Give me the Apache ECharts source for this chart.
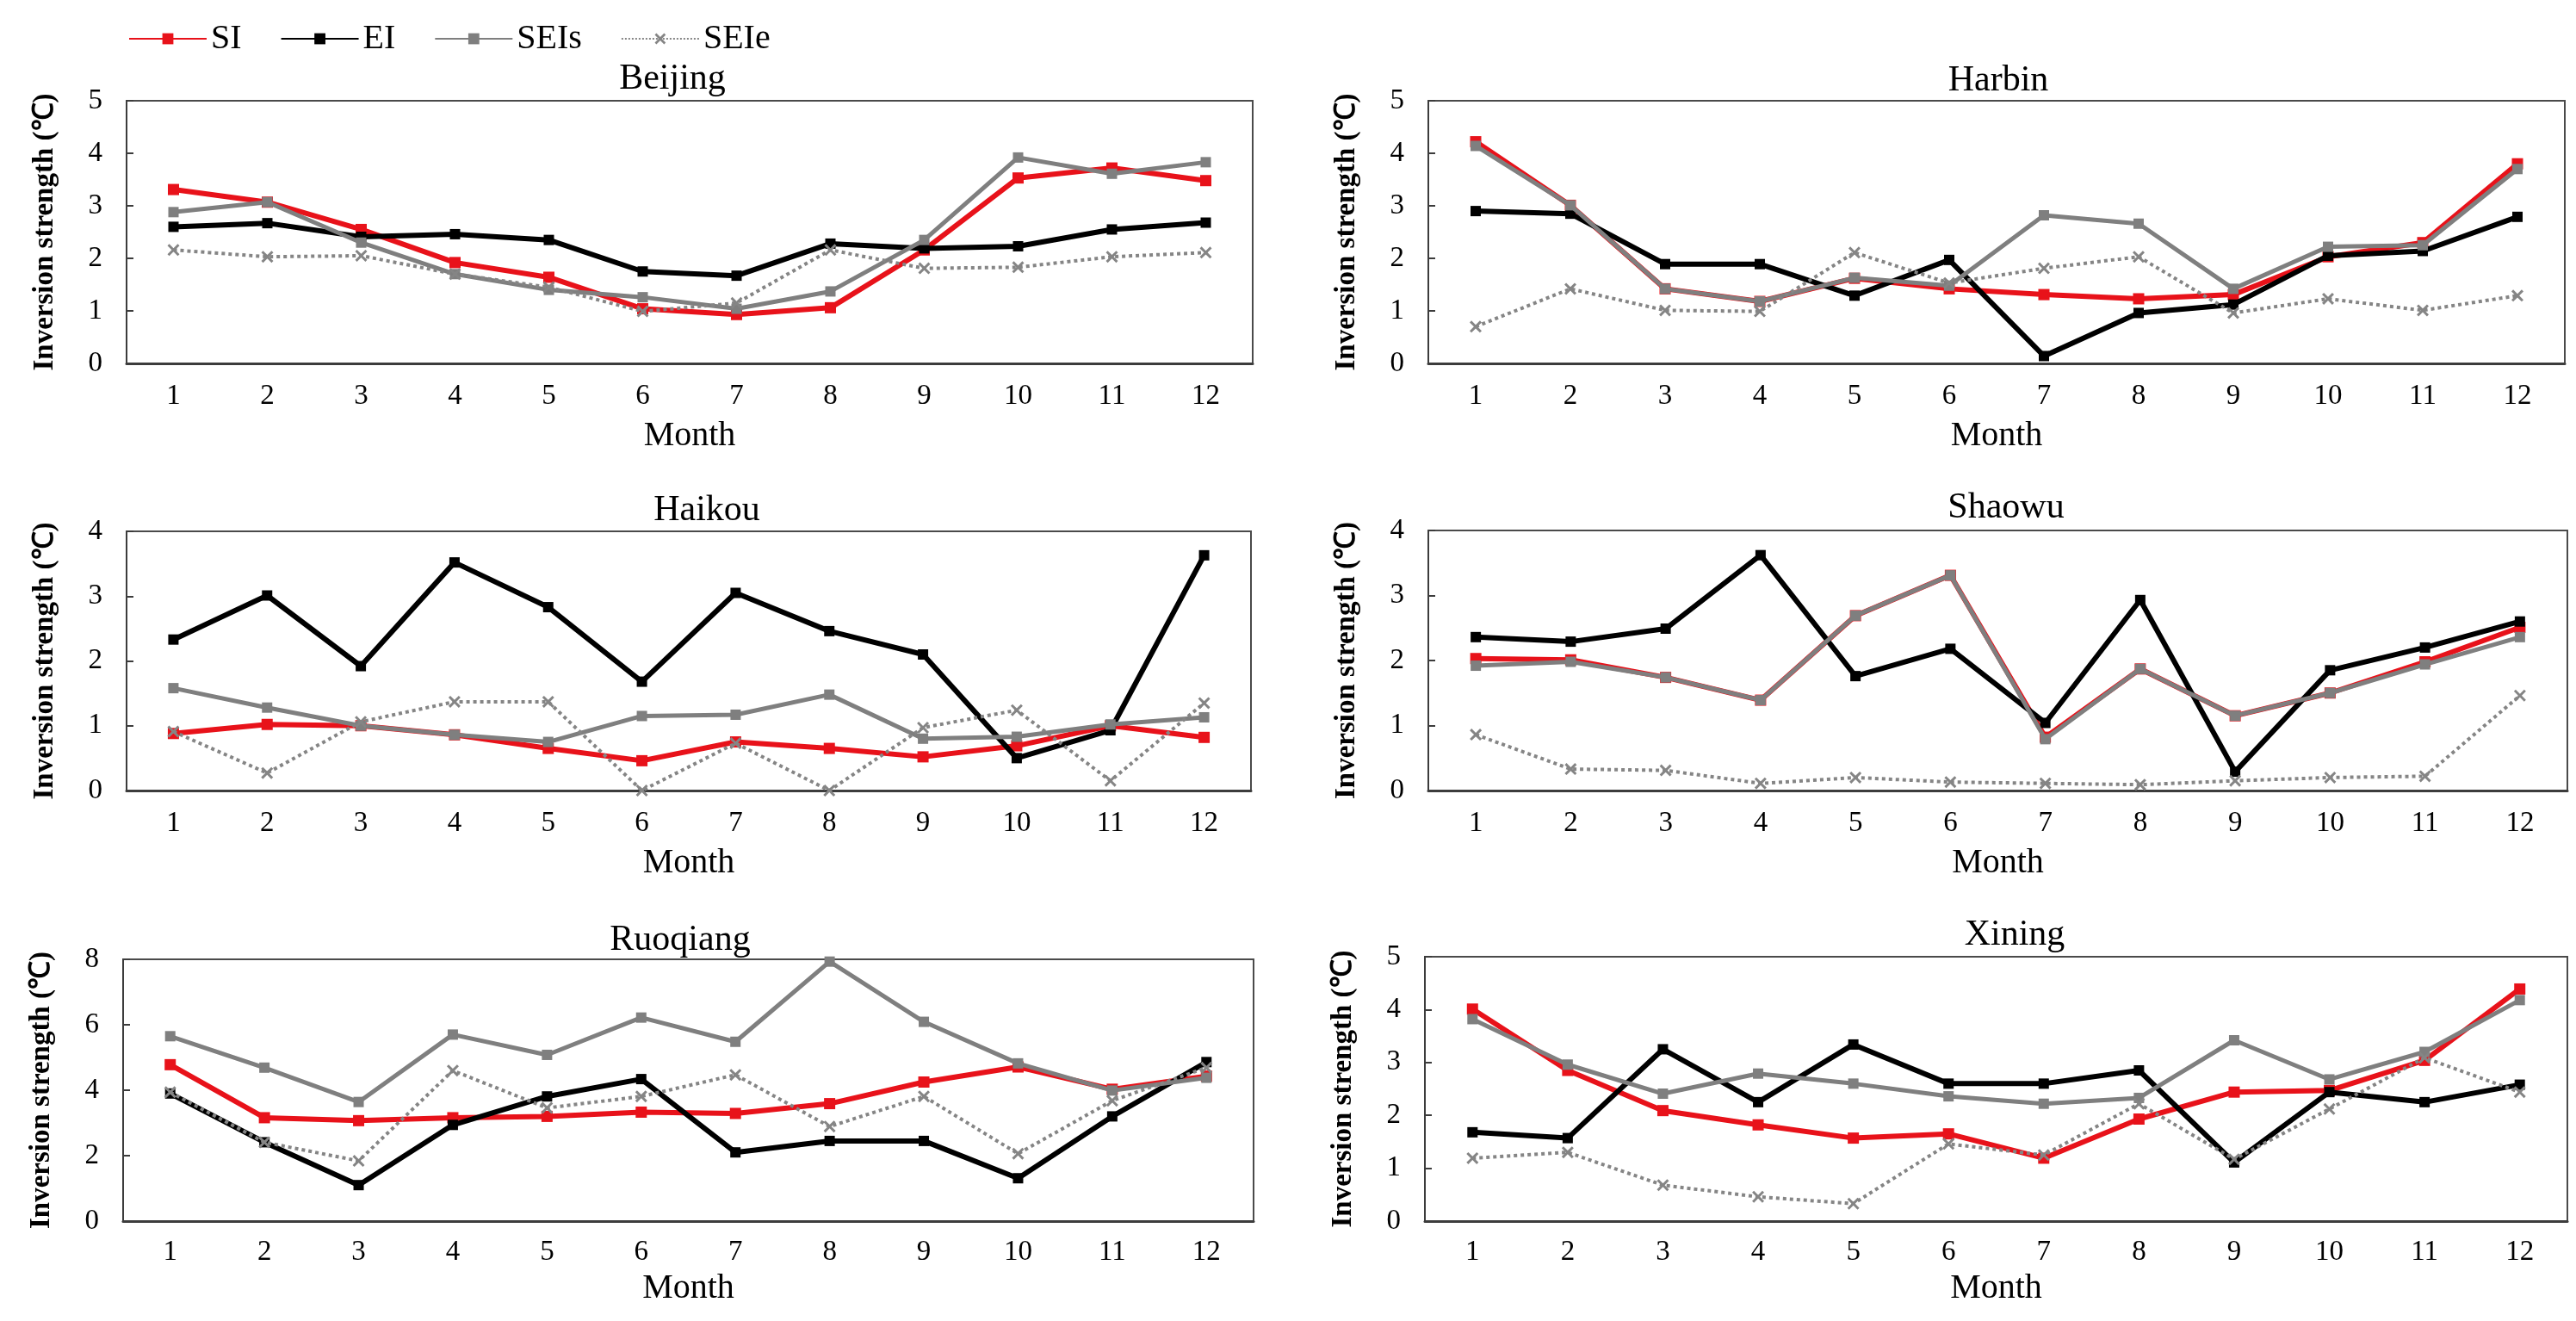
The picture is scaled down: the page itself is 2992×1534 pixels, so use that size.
<!DOCTYPE html>
<html>
<head>
<meta charset="utf-8">
<script src="https://cdn.jsdelivr.net/npm/echarts@6/dist/echarts.min.js"></script>
<style>
  html, body { margin: 0; padding: 0; background: #fff; }
  #main { width: 2992px; height: 1534px; }
</style>
</head>
<body>
<div id="main"></div>
<script>
// months on the x axis
const months = ['1', '2', '3', '4', '5', '6', '7', '8', '9', '10', '11', '12'];
const seriesNames = ['SI', 'EI', 'SEIs', 'SEIe'];

// Beijing
const beijingSI   = [3.31, 3.07, 2.55, 1.92, 1.64, 1.04, 0.93, 1.06, 2.16, 3.53, 3.72, 3.48];
const beijingEI   = [2.60, 2.67, 2.41, 2.46, 2.35, 1.75, 1.67, 2.28, 2.19, 2.23, 2.55, 2.68];
const beijingSEIs = [2.88, 3.07, 2.30, 1.70, 1.40, 1.26, 1.04, 1.37, 2.35, 3.92, 3.61, 3.83];
const beijingSEIe = [2.16, 2.03, 2.05, 1.70, 1.45, 0.99, 1.15, 2.16, 1.81, 1.83, 2.03, 2.11];

// Harbin
const harbinSI   = [4.22, 3.01, 1.42, 1.18, 1.62, 1.42, 1.31, 1.23, 1.31, 2.03, 2.30, 3.80];
const harbinEI   = [2.90, 2.85, 1.89, 1.89, 1.29, 1.97, 0.14, 0.96, 1.12, 2.05, 2.14, 2.79];
const harbinSEIs = [4.14, 3.01, 1.42, 1.18, 1.63, 1.48, 2.82, 2.66, 1.42, 2.22, 2.25, 3.70];
const harbinSEIe = [0.70, 1.42, 1.01, 0.99, 2.11, 1.53, 1.81, 2.03, 0.96, 1.23, 1.01, 1.29];

// Haikou
const haikouSI   = [0.88, 1.02, 1.00, 0.86, 0.65, 0.46, 0.75, 0.65, 0.52, 0.69, 1.00, 0.82];
const haikouEI   = [2.33, 3.01, 1.92, 3.52, 2.83, 1.68, 3.05, 2.46, 2.10, 0.50, 0.93, 3.63];
const haikouSEIs = [1.58, 1.28, 1.00, 0.86, 0.75, 1.15, 1.17, 1.48, 0.80, 0.83, 1.02, 1.13];
const haikouSEIe = [0.91, 0.27, 1.06, 1.37, 1.37, 0.00, 0.73, 0.00, 0.97, 1.24, 0.15, 1.35];

// Shaowu
const shaowuSI   = [2.03, 2.01, 1.74, 1.39, 2.69, 3.31, 0.82, 1.87, 1.15, 1.50, 1.98, 2.51];
const shaowuEI   = [2.36, 2.29, 2.49, 3.62, 1.76, 2.18, 1.04, 2.93, 0.29, 1.85, 2.20, 2.60];
const shaowuSEIs = [1.92, 1.98, 1.74, 1.39, 2.69, 3.31, 0.79, 1.87, 1.15, 1.50, 1.94, 2.36];
const shaowuSEIe = [0.86, 0.33, 0.31, 0.11, 0.20, 0.13, 0.11, 0.09, 0.15, 0.20, 0.22, 1.46];

// Ruoqiang
const ruoqiangSI   = [4.78, 3.16, 3.07, 3.16, 3.20, 3.33, 3.29, 3.59, 4.25, 4.71, 4.03, 4.43];
const ruoqiangEI   = [3.90, 2.41, 1.10, 2.94, 3.81, 4.34, 2.10, 2.45, 2.45, 1.31, 3.20, 4.86];
const ruoqiangSEIs = [5.65, 4.69, 3.64, 5.70, 5.08, 6.22, 5.48, 7.93, 6.09, 4.82, 3.99, 4.38];
const ruoqiangSEIe = [3.94, 2.41, 1.84, 4.60, 3.46, 3.81, 4.47, 2.89, 3.81, 2.06, 3.68, 4.69];

// Xining
const xiningSI   = [4.01, 2.85, 2.09, 1.82, 1.57, 1.65, 1.19, 1.93, 2.44, 2.47, 3.04, 4.39];
const xiningEI   = [1.68, 1.57, 3.25, 2.25, 3.34, 2.60, 2.60, 2.85, 1.11, 2.44, 2.25, 2.58];
const xiningSEIs = [3.82, 2.96, 2.41, 2.79, 2.60, 2.36, 2.22, 2.33, 3.42, 2.68, 3.20, 4.18];
const xiningSEIe = [1.19, 1.30, 0.68, 0.46, 0.33, 1.46, 1.25, 2.22, 1.17, 2.12, 3.09, 2.44];

const cityNames = ['Beijing', 'Harbin', 'Haikou', 'Shaowu', 'Ruoqiang', 'Xining'];
const cityData = [
  [beijingSI, beijingEI, beijingSEIs, beijingSEIe],
  [harbinSI, harbinEI, harbinSEIs, harbinSEIe],
  [haikouSI, haikouEI, haikouSEIs, haikouSEIe],
  [shaowuSI, shaowuEI, shaowuSEIs, shaowuSEIe],
  [ruoqiangSI, ruoqiangEI, ruoqiangSEIs, ruoqiangSEIe],
  [xiningSI, xiningEI, xiningSEIs, xiningSEIe]
];
const yMax = [5, 5, 4, 4, 8, 5];
const yStep = [1, 1, 1, 1, 2, 1];

// panel boxes in px: left, right, top, bottom, title centre x, title top
const panels = [
  { l: 147,  r: 1455, t: 117,  b: 422,  tx: 776,  ty: 66 },
  { l: 1659, r: 2979, t: 117,  b: 422,  tx: 2316, ty: 68 },
  { l: 147,  r: 1453, t: 617,  b: 918,  tx: 816,  ty: 567 },
  { l: 1659, r: 2982, t: 616,  b: 918,  tx: 2325, ty: 564 },
  { l: 143,  r: 1456, t: 1114, b: 1418, tx: 785,  ty: 1066 },
  { l: 1655, r: 2982, t: 1111, b: 1418, tx: 2335, ty: 1060 }
];

const W = 2992, H = 1534;
const serif = "'Liberation Serif', 'Times New Roman', serif";

const lineStyles = [
  { color: '#e8121a', width: 6, type: 'solid', symbol: 'rect', size: 13 },
  { color: '#000000', width: 6, type: 'solid', symbol: 'rect', size: 12 },
  { color: '#7f7f7f', width: 5, type: 'solid', symbol: 'rect', size: 12 },
  { color: '#858585', width: 4, type: 'dotted',
    symbol: 'path://M0,1.5L1.5,0L5,3.5L8.5,0L10,1.5L6.5,5L10,8.5L8.5,10L5,6.5L1.5,10L0,8.5L3.5,5Z', size: 14 }
];

let grids = [], xAxes = [], yAxes = [], titles = [], seriesList = [];

panels.forEach((p, i) => {
  grids.push({
    left: p.l, top: p.t, width: p.r - p.l, height: p.b - p.t,
    show: true, borderColor: '#4a4a4a', borderWidth: 2, backgroundColor: 'transparent'
  });
  titles.push({
    text: cityNames[i], left: p.tx, top: p.ty, textAlign: 'center',
    textStyle: { fontFamily: serif, fontSize: 42, fontWeight: 'normal', color: '#000' }
  });
  const lastRow = i >= 4;
  xAxes.push({
    gridIndex: i, type: 'category', data: months, boundaryGap: true,
    name: 'Month', nameLocation: 'middle', nameGap: lastRow ? 58 : 64,
    nameTextStyle: { fontFamily: serif, fontSize: 40, color: '#000' },
    axisLine: { lineStyle: { color: '#3c3c3c', width: 3 } },
    axisTick: { inside: true, length: 8, lineStyle: { color: '#3c3c3c', width: 2 } },
    axisLabel: { margin: lastRow ? 20 : 22, fontFamily: serif, fontSize: 33, color: '#000' },
    splitLine: { show: false }
  });
  yAxes.push({
    gridIndex: i, type: 'value', min: 0, max: yMax[i], interval: yStep[i],
    name: 'Inversion strength (℃)', nameLocation: 'middle', nameRotate: 90, nameGap: 78,
    nameTextStyle: { fontFamily: serif, fontSize: 33, fontWeight: 'bold', color: '#000' },
    axisLine: { show: true, lineStyle: { color: '#3c3c3c', width: 2 } },
    axisTick: { show: true, inside: true, length: 8, lineStyle: { color: '#3c3c3c', width: 2 } },
    axisLabel: { margin: 28, fontFamily: serif, fontSize: 33, color: '#000' },
    splitLine: { show: false }
  });
  seriesNames.forEach((name, k) => {
    const s = lineStyles[k];
    seriesList.push({
      name: name, type: 'line', xAxisIndex: i, yAxisIndex: i,
      data: cityData[i][k],
      symbol: s.symbol, symbolSize: s.size, showSymbol: true,
      itemStyle: { color: s.color },
      lineStyle: { color: s.color, width: s.width, type: s.type },
      z: 2 + k
    });
  });
});

const chart = echarts.init(document.getElementById('main'), null, { width: W, height: H });
chart.setOption({
  animation: false,
  backgroundColor: '#ffffff',
  title: titles,
  legend: {
    data: seriesNames, left: 144, top: 20, itemWidth: 90, itemHeight: 16, itemGap: 45,
    textStyle: { fontFamily: serif, fontSize: 40, color: '#000' }
  },
  grid: grids,
  xAxis: xAxes,
  yAxis: yAxes,
  series: seriesList
});
</script>
</body>
</html>
